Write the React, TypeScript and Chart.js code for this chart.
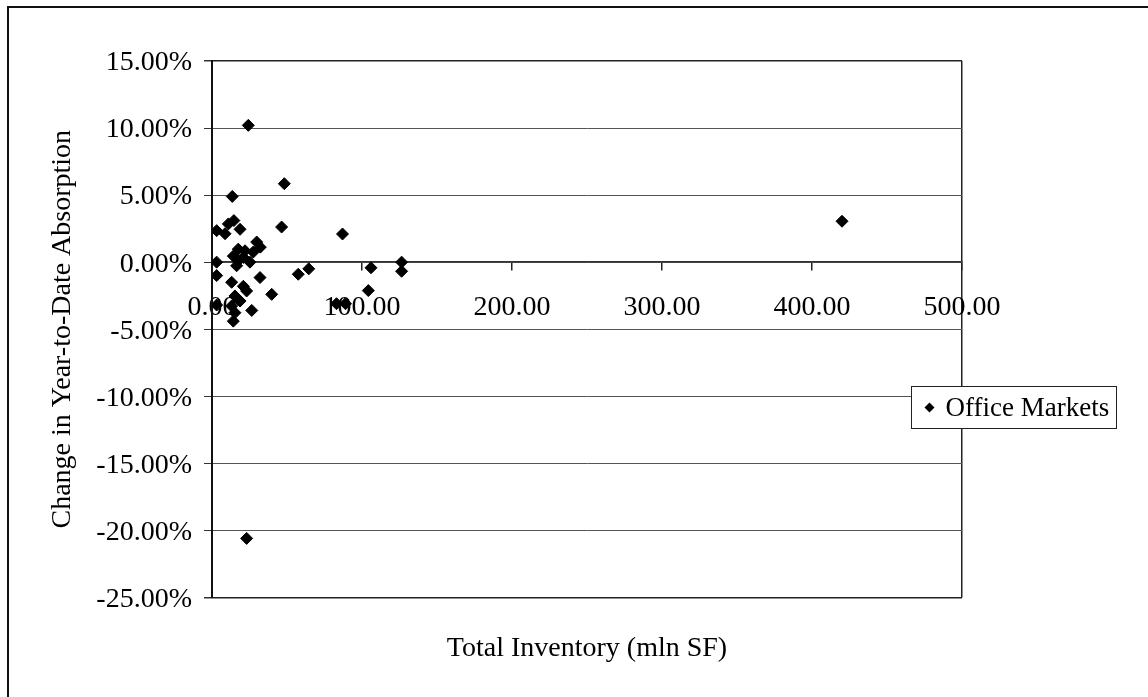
import React, { useEffect, useRef } from "react";
import { Chart, registerables } from "chart.js";

Chart.register(...registerables);

// Total inventory of each office market, in millions of square feet
const inventory = [
  24.2, 48.2, 13.5, 46.4, 87.0, 3.1, 8.7, 10.9, 14.6, 18.7,
  29.8, 32.2, 27.5, 17.5, 22.0, 14.2, 17.5, 25.3, 16.4, 20.9,
  3.1, 3.1, 13.1, 32.0, 57.5, 64.5, 106.0, 126.4, 126.4, 104.2,
  39.8, 20.9, 23.1, 15.3, 18.7, 3.1, 13.1, 26.5, 15.3, 14.2,
  83.0, 89.0, 23.1, 420.0,
];

// Change in year-to-date absorption, percent
const absorptionChange = [
  10.2, 5.85, 4.9, 2.62, 2.1, 2.35, 2.12, 2.85, 3.1, 2.45,
  1.5, 1.12, 0.75, 0.97, 0.85, 0.45, 0.1, 0.0, -0.27, 0.35,
  0.0, -1.0, -1.5, -1.15, -0.9, -0.5, -0.42, 0.0, -0.68, -2.12,
  -2.4, -1.8, -2.15, -2.52, -2.9, -3.2, -3.27, -3.6, -3.77, -4.4,
  -3.1, -3.1, -20.6, 3.05,
];

const seriesName = "Office Markets";
const xTitle = "Total Inventory (mln SF)";
const yTitle = "Change in Year-to-Date Absorption";

const xMin = 0;
const xMax = 500;
const xStep = 100;
const yMin = -25;
const yMax = 15;
const yStep = 5;

const FONT = "'Liberation Serif', 'Times New Roman', serif";
const FONT_SIZE = 28;

// Boxed legend drawn over the right edge of the plot area
const boxedLegend = {
  id: "boxedLegend",
  afterDraw(chart: any) {
    const ctx = chart.ctx;
    const ds = chart.data.datasets[0];
    const x0 = 911.5;
    const y0 = 386.5;
    const w = 205;
    const h = 42;
    ctx.save();
    ctx.fillStyle = "#fff";
    ctx.fillRect(x0, y0, w, h);
    ctx.strokeStyle = "#222";
    ctx.lineWidth = 1;
    ctx.strokeRect(x0, y0, w, h);
    const cy = y0 + h / 2;
    // series marker
    ctx.fillStyle = "#000";
    ctx.beginPath();
    ctx.moveTo(x0 + 13, cy);
    ctx.lineTo(x0 + 18, cy - 5);
    ctx.lineTo(x0 + 23, cy);
    ctx.lineTo(x0 + 18, cy + 5);
    ctx.closePath();
    ctx.fill();
    ctx.font = `${FONT_SIZE - 1}px ${FONT}`;
    ctx.textBaseline = "middle";
    ctx.textAlign = "left";
    ctx.fillText(ds.label, x0 + 34, cy + 1);
    ctx.restore();
  },
};

export default function App() {
  const canvasRef = useRef<HTMLCanvasElement | null>(null);

  useEffect(() => {
    const canvas = canvasRef.current;
    if (!canvas) return;
    const points = inventory.map((x, i) => ({ x, y: absorptionChange[i] }));

    const chart = new Chart(canvas, {
      type: "scatter",
      data: {
        datasets: [
          {
            label: seriesName,
            data: points,
            pointStyle: "rectRot",
            pointRadius: 6,
            pointHoverRadius: 6,
            backgroundColor: "#000",
            borderColor: "#000",
            borderWidth: 1,
          },
        ],
      },
      options: {
        responsive: false,
        animation: false,
        events: [],
        layout: { padding: { left: 0, right: 186, top: 61, bottom: 32 } },
        plugins: {
          legend: { display: false },
          tooltip: { enabled: false },
          title: {
            display: true,
            position: "bottom",
            fullSize: false,
            text: xTitle,
            color: "#000",
            font: { family: FONT, size: FONT_SIZE, weight: "normal" },
            padding: { top: 34, bottom: 0 },
          },
        },
        scales: {
          x: {
            type: "linear",
            position: { y: 0 },
            min: xMin,
            max: xMax,
            ticks: {
              stepSize: xStep,
              color: "#000",
              padding: 21,
              font: { family: FONT, size: FONT_SIZE },
              callback: (v: any) => Number(v).toFixed(2),
            },
            grid: {
              drawOnChartArea: true,
              color: (c: any) => (c.tick && c.tick.value === xMax ? "#222" : "rgba(0,0,0,0)"),
              tickColor: "#222",
              tickLength: 8,
              lineWidth: 1.5,
            },
            border: { display: true, color: "#333", width: 1.5 },
          },
          y: {
            type: "linear",
            position: "left",
            min: yMin,
            max: yMax,
            afterFit: (scale: any) => {
              scale.width = 212;
            },
            ticks: {
              stepSize: yStep,
              color: "#000",
              padding: 12,
              labelOffset: 2,
              font: { family: FONT, size: FONT_SIZE },
              callback: (v: any) => Number(v).toFixed(2) + "%",
            },
            grid: {
              color: (c: any) =>
                c.tick && (c.tick.value === yMax || c.tick.value === yMin) ? "#222" : "#555",
              lineWidth: (c: any) =>
                c.tick && (c.tick.value === yMax || c.tick.value === yMin) ? 1.5 : 1,
              tickColor: "#333",
              tickLength: 8,
            },
            border: { display: true, color: "#111", width: 2 },
            title: {
              display: true,
              text: yTitle,
              color: "#000",
              font: { family: FONT, size: FONT_SIZE, weight: "normal" },
              padding: { top: 46, bottom: 0 },
            },
          },
        },
      },
      plugins: [boxedLegend],
    });

    return () => chart.destroy();
  }, []);

  return (
    <div style={{ position: "absolute", left: 0, top: 0, width: 1148, height: 697, background: "#fff" }}>
      <div
        style={{
          position: "absolute",
          left: 7,
          top: 6,
          right: 0,
          bottom: 0,
          borderLeft: "2px solid #111",
          borderTop: "2px solid #111",
        }}
      />
      <canvas
        ref={canvasRef}
        width={1148}
        height={697}
        style={{ position: "absolute", left: 0, top: 0, display: "block" }}
      />
    </div>
  );
}
